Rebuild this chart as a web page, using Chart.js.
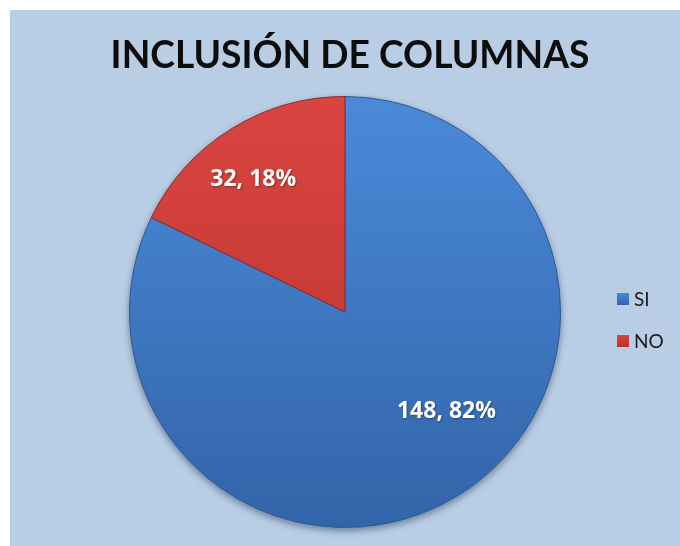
<!DOCTYPE html>
<html><head><meta charset="utf-8">
<script src="https://cdn.jsdelivr.net/npm/chart.js@4/dist/chart.umd.min.js"></script>
<style>html,body{margin:0;padding:0;background:#fff;}#wrap{position:relative;width:680px;height:546px;}</style>
</head><body><div id="wrap"><canvas id="c" width="680" height="546"></canvas></div>
<script>
const chartTitle = "INCLUSIÓN DE COLUMNAS";
const categories = ["SI", "NO"];
const values = [148, 32];
const percents = ["82%", "18%"];

const topColors = ["#4b8ad9", "#da4540"];
const bottomColors = ["#3264a8", "#b7322e"];

const bgPlugin = {
  id: 'bg',
  beforeDraw(chart) {
    const ctx = chart.ctx;
    ctx.save();
    ctx.fillStyle = '#fff';
    ctx.fillRect(0, 0, chart.width, chart.height);
    ctx.fillStyle = '#b9cde5';
    ctx.fillRect(10, 10, chart.width - 10, chart.height - 10);
    // title
    ctx.fillStyle = '#0d0d0d';
    ctx.font = 'bold 38px Lato';
    ctx.textAlign = 'center';
    ctx.textBaseline = 'middle';
    ctx.save();
    ctx.translate(350, 56);
    ctx.scale(0.979, 1);
    ctx.fillText(chartTitle, 0, 0);
    ctx.restore();
    // shadow under pie
    const m = chart.getDatasetMeta(0).data[0];
    ctx.beginPath();
    ctx.arc(m.x, m.y + 3, m.outerRadius + 1, 0, Math.PI * 2);
    ctx.fillStyle = 'rgba(30,50,80,0.45)';
    ctx.filter = 'blur(3px)';
    ctx.fill();
    ctx.filter = 'none';
    ctx.restore();
  },
  afterDraw(chart) {
    const ctx = chart.ctx;
    const meta = chart.getDatasetMeta(0);
    ctx.save();
    // labels
    const pos = [{f: 0.66, da: -13.5}, {f: 0.75, da: -2.6}];
    ctx.font = 'bold 23px "Open Sans"';
    ctx.fillStyle = '#ffffff';
    ctx.textAlign = 'center';
    ctx.textBaseline = 'middle';
    meta.data.forEach((arc, i) => {
      const mid = (arc.startAngle + arc.endAngle) / 2 + pos[i].da * Math.PI / 180;
      const r = arc.outerRadius * pos[i].f;
      ctx.shadowColor = 'rgba(0,0,0,0.35)';
      ctx.shadowBlur = 2;
      ctx.shadowOffsetX = 1; ctx.shadowOffsetY = 1;
      ctx.fillText(values[i] + ', ' + percents[i], arc.x + Math.cos(mid) * r, arc.y + Math.sin(mid) * r);
    });
    ctx.shadowColor = 'transparent';
    // legend
    ctx.font = '19px Lato';
    ctx.textAlign = 'left';
    categories.forEach((c, i) => {
      const y = 299 + i * 42;
      const g = ctx.createLinearGradient(0, y - 6, 0, y + 6);
      g.addColorStop(0, topColors[i]); g.addColorStop(1, bottomColors[i]);
      ctx.fillStyle = g;
      ctx.fillRect(617, y - 6, 12, 12);
      ctx.fillStyle = '#1a1a1a';
      ctx.fillText(c, 634, y + 1);
    });
    ctx.restore();
  }
};

function grad(ctx, i) {
  const chart = ctx.chart;
  const ca = chart.chartArea;
  if (!ca) return topColors[i];
  const g = chart.ctx.createLinearGradient(0, ca.top, 0, ca.bottom);
  g.addColorStop(0, topColors[i]);
  g.addColorStop(1, bottomColors[i]);
  return g;
}

new Chart(document.getElementById('c'), {
  type: 'pie',
  data: {
    labels: categories,
    datasets: [{
      data: values,
      backgroundColor: (ctx) => grad(ctx, ctx.dataIndex),
      borderColor: ['#2d5a94', '#8c2a27'],
      borderWidth: 1
    }]
  },
  options: {
    responsive: false,
    animation: false,
    layout: { padding: { left: 129, right: 119, top: 96, bottom: 18 } },
    plugins: { legend: { display: false }, tooltip: { enabled: false }, title: { display: false } }
  },
  plugins: [bgPlugin]
});
</script></body></html>
